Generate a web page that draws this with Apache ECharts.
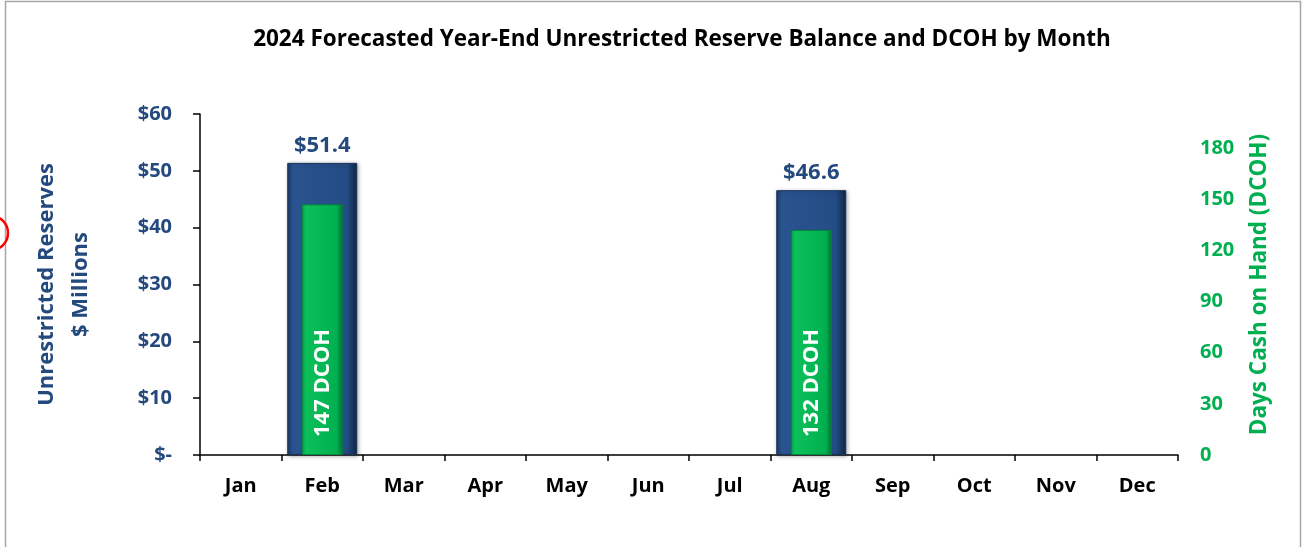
<!DOCTYPE html>
<html>
<head>
<meta charset="utf-8">
<style>
html,body{margin:0;padding:0;background:#fff;}
#chart{width:1304px;height:547px;}
</style>
<script src="https://cdn.jsdelivr.net/npm/echarts@6/dist/echarts.min.js"></script>
</head>
<body>
<div id="chart"></div>
<script>
const titleText = '2024 Forecasted Year-End Unrestricted Reserve Balance and DCOH by Month';
const months = ['Jan','Feb','Mar','Apr','May','Jun','Jul','Aug','Sep','Oct','Nov','Dec'];
const reserves = [null, 51.4, null, null, null, null, null, 46.6, null, null, null, null];
const dcoh = [null, 147, null, null, null, null, null, 132, null, null, null, null];
const leftTicks = { min: 0, max: 60, interval: 10 };
const rightTicks = { min: 0, max: 200, interval: 30, lastLabel: 180 };
const leftName = 'Unrestricted Reserves\n$ Millions';
const rightName = 'Days Cash on Hand (DCOH)';

const NAVY = '#23497d';
const GREEN = '#00b050';
const FONT = 'Open Sans';

const chart = echarts.init(document.getElementById('chart'));
const option = {
  backgroundColor: '#ffffff',
  animation: false,
  textStyle: { fontFamily: FONT },
  title: {
    text: titleText,
    left: 677, top: 23, textAlign: 'center',
    textStyle: { fontFamily: FONT, fontWeight: 'bold', fontSize: 22.5, color: '#000' }
  },
  graphic: [
    { type: 'rect', shape: { x: 5.5, y: 1.5, width: 1295, height: 600 },
      style: { fill: 'none', stroke: '#a6a6a6', lineWidth: 1.5 }, silent: true },
    { type: 'circle', shape: { cx: -9, cy: 233, r: 17 },
      style: { fill: 'none', stroke: '#ff0000', lineWidth: 2.5 }, silent: true }
  ],
  grid: { left: 200, right: 126, top: 114, bottom: 92 },
  xAxis: [
    { type: 'category', data: months, boundaryGap: true,
      axisLine: { show: true, lineStyle: { color: '#000', width: 1.5 } },
      axisTick: { show: true, length: 6, lineStyle: { color: '#000', width: 1.5 } },
      axisLabel: { color: '#000', fontWeight: 'bold', fontSize: 20, fontFamily: FONT, margin: 21 } },
    { type: 'category', data: months, show: false, position: 'bottom' }
  ],
  yAxis: [
    { type: 'value', min: leftTicks.min, max: leftTicks.max, interval: leftTicks.interval,
      position: 'left',
      name: leftName, nameLocation: 'middle', nameRotate: 90, nameGap: 102,
      nameTextStyle: { color: NAVY, fontWeight: 'bold', fontSize: 22, fontFamily: FONT, lineHeight: 34, align: 'center' },
      splitLine: { show: false },
      axisLine: { show: true, lineStyle: { color: '#000', width: 1.5 } },
      axisTick: { show: true, length: 7, lineStyle: { color: '#000', width: 1.5 } },
      axisLabel: { color: NAVY, fontWeight: 'bold', fontSize: 20, fontFamily: FONT, margin: 28,
        formatter: v => v === 0 ? '$-' : '$' + v } },
    { type: 'value', min: rightTicks.min, max: rightTicks.max, interval: rightTicks.interval,
      position: 'right',
      name: rightName, nameLocation: 'middle', nameRotate: 90, nameGap: 70,
      nameTextStyle: { color: GREEN, fontWeight: 'bold', fontSize: 22.5, fontFamily: FONT },
      splitLine: { show: false },
      axisLine: { show: false }, axisTick: { show: false },
      axisLabel: { color: GREEN, fontWeight: 'bold', fontSize: 20, fontFamily: FONT, margin: 22,
        formatter: v => v > rightTicks.lastLabel ? '' : String(v) } }
  ],
  series: [
    { name: 'Reserves', type: 'bar', xAxisIndex: 0, yAxisIndex: 0, data: reserves, barWidth: 70,
      itemStyle: {
        color: new echarts.graphic.LinearGradient(0, 0, 1, 0, [
          { offset: 0, color: '#1c3d6c' }, { offset: 0.08, color: '#2a5490' },
          { offset: 0.85, color: '#244c84' }, { offset: 1, color: '#0f2646' }
        ]),
        borderColor: '#163259', borderWidth: 1,
        shadowColor: 'rgba(0,0,0,0.3)', shadowBlur: 4, shadowOffsetX: 1, shadowOffsetY: 1
      },
      label: { show: true, position: 'top', distance: 6, color: NAVY, fontWeight: 'bold', fontSize: 22,
        fontFamily: FONT, formatter: p => '$' + Number(p.value).toFixed(1) } },
    { name: 'DCOH', type: 'bar', xAxisIndex: 1, yAxisIndex: 1, data: dcoh, barWidth: 41, z: 3,
      itemStyle: {
        color: new echarts.graphic.LinearGradient(0, 0, 1, 0, [
          { offset: 0, color: '#009a45' }, { offset: 0.1, color: '#0cc05a' },
          { offset: 0.85, color: '#00b050' }, { offset: 1, color: '#006e31' }
        ]),
        borderColor: '#00853c', borderWidth: 1
      },
      label: { show: true, position: 'insideBottom', rotate: 90, align: 'left', verticalAlign: 'middle',
        distance: 18, color: '#fff', fontWeight: 'bold', fontSize: 22, fontFamily: FONT,
        formatter: p => p.value + ' DCOH' } }
  ]
};
chart.setOption(option);
</script>
</body>
</html>
